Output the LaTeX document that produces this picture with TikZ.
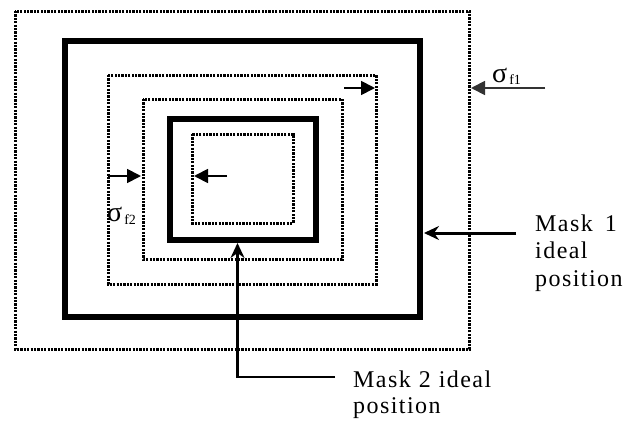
\documentclass[tikz,border=0pt]{standalone}
\usepackage{fontspec}
\setmainfont{Liberation Serif}
\newfontfamily\lsfont[LetterSpace=6]{Liberation Serif}
\usetikzlibrary{arrows.meta}
\tikzset{
  dotbox/.style={line width=3pt, dash pattern=on 2.2pt off 1.2pt},
  thickbox/.style={line width=6pt},
  smallarr/.style={line width=1.8pt, -{Triangle[length=14pt,width=14pt]}},
  maskarr/.style={line width=3pt, -{Stealth[length=15pt,width=14pt,inset=5pt]}},
  lbl/.style={inner sep=0pt, anchor=base west, font=\lsfont\fontsize{24}{27.5}\selectfont},
  sig/.style={inner sep=0pt, anchor=base west, font=\fontsize{28}{28}\selectfont},
}
\begin{document}
\begin{tikzpicture}[x=1pt,y=-1pt]
\useasboundingbox (0,0) rectangle (626,423);
% rectangles
\draw[dotbox] (15,11) rectangle (469.5,349);
\draw[thickbox] (65,41) rectangle (420,317);
\draw[dotbox] (108,75) rectangle (376,284);
\draw[dotbox] (143,99) rectangle (342,259);
\draw[thickbox] (169.5,118.5) rectangle (316,239.5);
\draw[dotbox] (192,134) rectangle (293,223);
% coordinates for connectors
\coordinate (f1s) at (545,88);
\coordinate (f1e) at (471,88);
\coordinate (trs) at (344,88);
\coordinate (tre) at (375,88);
\coordinate (lfs) at (108,176);
\coordinate (lfe) at (141,176);
\coordinate (ins) at (227,176);
\coordinate (ine) at (194,176);
\coordinate (m1s) at (516,233);
\coordinate (m1e) at (424,233);
\coordinate (m2s) at (335,377);
\coordinate (m2c) at (237.5,377);
\coordinate (m2e) at (237.5,243);
% connectors
\draw[smallarr, draw=black!80, fill=black!80] (f1s) -- (f1e);
\draw[smallarr] (trs) -- (tre);
\draw[smallarr] (lfs) -- (lfe);
\draw[smallarr] (ins) -- (ine);
\draw[maskarr] (m1s) -- (m1e);
\draw[maskarr, line width=2.4pt] (m2s) -- (m2c) -- (m2e);
% labels
\node[sig] (sf1) at (492,82) {σ\hspace{2pt}\raisebox{-2pt}{\fontsize{14}{14}\selectfont f1}};
\node[sig] (sf2) at (107,221) {σ\hspace{2pt}\raisebox{-3pt}{\fontsize{14}{14}\selectfont f2}};
\node[lbl] (mask1) at (535,231) {\begin{tabular}[t]{@{}l@{}}Mask\hspace{12pt}1\\ideal\\position\end{tabular}};
\node[lbl, font=\lsfont\fontsize{24}{26}\selectfont] (mask2) at (353,387) {\begin{tabular}[t]{@{}l@{}}Mask\hspace{8pt}2\hspace{8pt}ideal\\position\end{tabular}};
\end{tikzpicture}
\end{document}
